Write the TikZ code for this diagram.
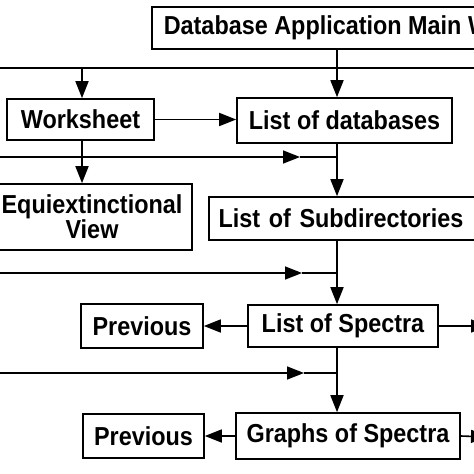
\documentclass[tikz,border=0pt]{standalone}
\usepackage{fontspec}
\setmainfont{Liberation Sans}[FakeStretch=0.9]
\usetikzlibrary{arrows.meta}
\begin{document}
\begin{tikzpicture}[x=1pt,y=-1pt,
  box/.style={draw,line width=1.6pt,inner sep=0pt,align=center,
    font=\fontsize{26}{25}\selectfont\bfseries},
  conn/.style={line width=1.6pt},
  arr/.style={conn,-{Triangle[length=17pt,width=13pt]}}]
\useasboundingbox (0,0) rectangle (474,474);
\clip (0,0) rectangle (474,474);
\fill[white] (0,0) rectangle (474,474);
% nodes
\node[box,anchor=north west,minimum height=42pt,inner xsep=12pt] (main) at (151,6) {Database Application Main Window};
\node[box,minimum width=147pt,minimum height=41pt] (ws) at (80.5,119.5) {Worksheet};
\node[box,minimum width=215pt,minimum height=45pt] (db) at (344.5,120.5) {List of databases};
\node[box,minimum width=200pt,minimum height=66pt] (eq) at (92,217) {Equiextinctional\\View};
\node[box,minimum width=269pt,minimum height=43pt,text width=250pt,align=left] (sub) at (343.5,218.5) {List of Subdirectories};
\node[box,minimum width=190pt,minimum height=42pt] (sp) at (343,326) {List of Spectra};
\node[box,minimum width=122pt,minimum height=44pt] (pv1) at (142,326) {Previous};
\node[box,minimum width=224pt,minimum height=46pt] (gr) at (348,436) {Graphs of Spectra};
\node[box,minimum width=121pt,minimum height=44pt] (pv2) at (143.5,436) {Previous};
% coordinates
\coordinate (t) at (337,0);
\coordinate (l1) at (0,68);
\coordinate (r1) at (474,68);
\coordinate (j1) at (82,68);
\coordinate (l2) at (0,157);
\coordinate (m2) at (300,157);
\coordinate (j2) at (337,157);
\coordinate (l3) at (0,273);
\coordinate (m3) at (302,273);
\coordinate (j3) at (337,273);
\coordinate (l4) at (0,373);
\coordinate (m4) at (304,373);
\coordinate (j4) at (337,373);
\coordinate (e1) at (488,326);
\coordinate (e2) at (488,437);
% connectors
\draw[conn] (l1) -- (r1);
\draw[arr] (j1) -- (j1 |- ws.north);
\draw[arr] (main.south -| t) -- (t |- db.north);
\draw[arr] (ws.east) -- (db.west |- ws.east);
\draw[conn] (db.south -| t) -- (j2);
\draw[arr] (l2) -- (m2);
\draw[conn] (m2) -- (j2);
\draw[arr] (j2) -- (t |- sub.north);
\draw[arr] (ws.south -| j1) -- (j1 |- eq.north);
\draw[conn] (sub.south -| t) -- (j3);
\draw[arr] (l3) -- (m3);
\draw[conn] (m3) -- (j3);
\draw[arr] (j3) -- (t |- sp.north);
\draw[arr] (sp.west) -- (pv1.east);
\draw[arr] (sp.east) -- (e1);
\draw[conn] (sp.south -| t) -- (j4);
\draw[arr] (l4) -- (m4);
\draw[conn] (m4) -- (j4);
\draw[arr] (j4) -- (t |- gr.north);
\draw[arr] (gr.west) -- (pv2.east);
\draw[arr] (gr.east) -- (e2);
\end{tikzpicture}
\end{document}
